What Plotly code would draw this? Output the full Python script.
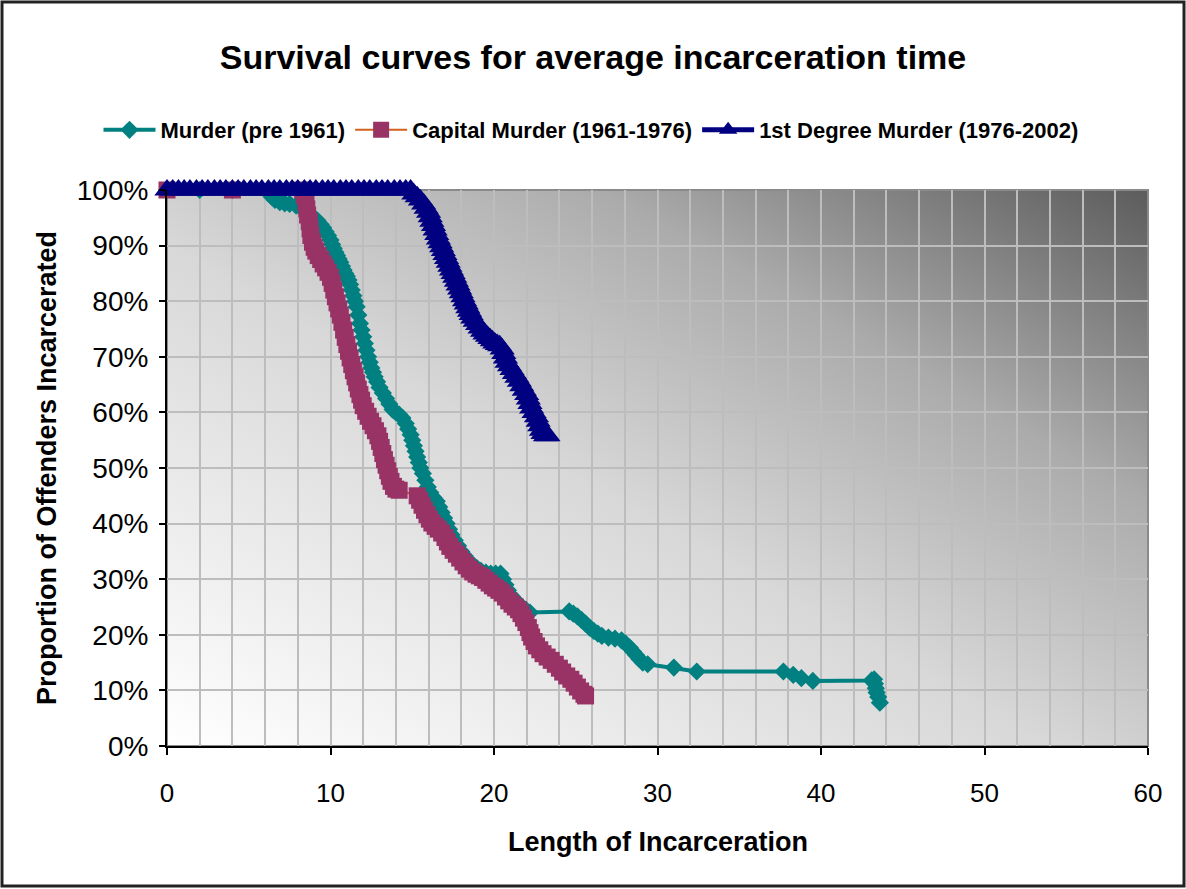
import base64
import plotly.graph_objects as go

# ---------------- data ----------------
murder_pts = [(0, 1.0), (2, 1.0), (4, 1.0), (6.2, 1.0), (6.4, 0.988), (6.6, 0.982), (6.9, 0.978),
              (7.2, 0.976), (7.5, 0.975), (7.9, 0.972), (8.2, 0.968), (8.5, 0.962), (8.8, 0.955),
              (9.0, 0.95), (9.2, 0.945), (9.4, 0.938), (9.55, 0.932), (9.7, 0.925), (9.85, 0.918),
              (10.0, 0.91), (10.1, 0.902), (10.2, 0.895), (10.3, 0.888), (10.4, 0.882), (10.5, 0.876),
              (10.6, 0.87), (10.7, 0.863), (10.8, 0.856), (10.9, 0.85), (11.0, 0.845), (11.1, 0.838),
              (11.2, 0.83), (11.3, 0.82), (11.4, 0.81), (11.5, 0.80), (11.6, 0.79), (11.7, 0.775),
              (11.8, 0.76), (11.9, 0.748), (12.0, 0.736), (12.1, 0.724), (12.2, 0.712), (12.3, 0.70),
              (12.4, 0.69), (12.5, 0.68), (12.6, 0.672), (12.7, 0.664), (12.85, 0.655), (13.0, 0.645),
              (13.2, 0.635), (13.4, 0.625), (13.6, 0.615), (13.8, 0.605), (14.0, 0.60), (14.2, 0.596),
              (14.4, 0.59), (14.6, 0.58), (14.75, 0.57), (14.9, 0.56), (15.0, 0.55), (15.1, 0.54),
              (15.2, 0.53), (15.3, 0.52), (15.4, 0.51), (15.5, 0.50), (15.65, 0.49), (15.8, 0.478),
              (15.95, 0.466), (16.1, 0.456), (16.3, 0.447), (16.5, 0.44), (16.65, 0.43), (16.8, 0.42),
              (16.95, 0.41), (17.1, 0.40), (17.25, 0.39), (17.4, 0.38), (17.6, 0.37), (17.8, 0.36),
              (18.0, 0.35), (18.2, 0.342), (18.45, 0.333), (18.7, 0.326), (18.95, 0.32), (19.2, 0.315),
              (19.5, 0.312), (19.8, 0.31), (20.1, 0.31), (20.4, 0.31), (20.55, 0.30), (20.7, 0.29),
              (20.85, 0.28), (21.0, 0.272), (21.2, 0.265), (21.45, 0.258), (21.7, 0.25), (21.95, 0.245),
              (22.2, 0.24), (24.6, 0.242), (24.85, 0.238), (25.1, 0.233), (25.35, 0.227), (25.6, 0.22),
              (25.85, 0.213), (26.1, 0.207), (26.35, 0.202), (26.6, 0.198), (27.0, 0.195), (27.4, 0.193),
              (27.8, 0.19), (28.05, 0.184), (28.3, 0.177), (28.5, 0.17), (28.7, 0.163), (28.9, 0.156),
              (29.1, 0.15), (29.4, 0.147), (31.0, 0.141), (32.4, 0.134), (37.7, 0.134), (38.3, 0.128),
              (38.8, 0.122), (39.5, 0.117), (43.1, 0.118), (43.25, 0.12), (43.3, 0.112), (43.35, 0.104),
              (43.4, 0.096), (43.5, 0.088), (43.6, 0.078)]

capital_pts = [(0, 1.0), (4, 1.0), (8.3, 1.0), (8.4, 0.99), (8.5, 0.978), (8.55, 0.966), (8.6, 0.955),
               (8.7, 0.943), (8.75, 0.93), (8.8, 0.918), (8.9, 0.906), (9.0, 0.897), (9.1, 0.89),
               (9.25, 0.882), (9.4, 0.875), (9.55, 0.867), (9.7, 0.86), (9.85, 0.852), (10.0, 0.843),
               (10.1, 0.832), (10.2, 0.82), (10.3, 0.808), (10.4, 0.797), (10.5, 0.786), (10.6, 0.775),
               (10.7, 0.762), (10.8, 0.748), (10.9, 0.735), (11.0, 0.722), (11.1, 0.71), (11.2, 0.698),
               (11.3, 0.686), (11.4, 0.675), (11.5, 0.664), (11.6, 0.653), (11.7, 0.642), (11.8, 0.632),
               (11.9, 0.622), (12.0, 0.612), (12.15, 0.602), (12.3, 0.593), (12.45, 0.584), (12.6, 0.576),
               (12.75, 0.567), (12.9, 0.558), (13.0, 0.548), (13.1, 0.537), (13.2, 0.526), (13.3, 0.515),
               (13.4, 0.505), (13.5, 0.495), (13.6, 0.485), (13.7, 0.476), (13.85, 0.467), (14.0, 0.462),
               (14.2, 0.46), (15.3, 0.45), (15.45, 0.442), (15.6, 0.433), (15.75, 0.424), (15.9, 0.416),
               (16.05, 0.408), (16.2, 0.401), (16.4, 0.395), (16.6, 0.39), (16.8, 0.383), (17.0, 0.375),
               (17.15, 0.367), (17.3, 0.359), (17.5, 0.352), (17.7, 0.345), (17.9, 0.338), (18.1, 0.331),
               (18.3, 0.324), (18.5, 0.318), (18.7, 0.313), (18.9, 0.309), (19.1, 0.306), (19.3, 0.303),
               (19.5, 0.298), (19.7, 0.293), (19.9, 0.288), (20.1, 0.284), (20.3, 0.28), (20.5, 0.275),
               (20.7, 0.268), (20.9, 0.261), (21.1, 0.255), (21.3, 0.25), (21.5, 0.245), (21.65, 0.238),
               (21.8, 0.23), (21.95, 0.222), (22.1, 0.213), (22.2, 0.204), (22.3, 0.196), (22.45, 0.188),
               (22.6, 0.18), (22.8, 0.173), (23.0, 0.166), (23.25, 0.16), (23.5, 0.154), (23.75, 0.147),
               (24.0, 0.14), (24.2, 0.133), (24.45, 0.126), (24.7, 0.12), (24.9, 0.113), (25.1, 0.106),
               (25.3, 0.099), (25.5, 0.093), (25.6, 0.09)]

first_pts = [(0, 1.0), (0.35, 1.0), (0.7, 1.0), (1.05, 1.0), (1.4, 1.0), (1.8, 1.0), (2.15, 1.0),
             (2.5, 1.0), (2.9, 1.0), (3.25, 1.0), (3.6, 1.0), (4.0, 1.0), (4.35, 1.0), (4.7, 1.0),
             (5.1, 1.0), (5.45, 1.0), (5.8, 1.0), (6.2, 1.0), (6.55, 1.0), (6.9, 1.0), (7.3, 1.0),
             (7.65, 1.0), (8.0, 1.0), (8.4, 1.0), (8.75, 1.0), (9.1, 1.0), (9.5, 1.0), (9.85, 1.0),
             (10.2, 1.0), (10.6, 1.0), (10.95, 1.0), (11.3, 1.0), (11.7, 1.0), (12.05, 1.0), (12.4, 1.0),
             (12.8, 1.0), (13.15, 1.0), (13.5, 1.0), (13.9, 1.0), (14.25, 1.0), (14.6, 1.0), (14.9, 1.0),
             (15.1, 0.993), (15.3, 0.988), (15.5, 0.982), (15.7, 0.975), (15.85, 0.967), (16.0, 0.96),
             (16.1, 0.952), (16.2, 0.944), (16.3, 0.936), (16.4, 0.928), (16.5, 0.92), (16.6, 0.912),
             (16.7, 0.905), (16.8, 0.898), (16.9, 0.891), (17.0, 0.884), (17.1, 0.877), (17.2, 0.87),
             (17.3, 0.863), (17.4, 0.856), (17.5, 0.85), (17.6, 0.843), (17.7, 0.836), (17.8, 0.829),
             (17.9, 0.822), (18.0, 0.815), (18.1, 0.808), (18.2, 0.801), (18.3, 0.795), (18.4, 0.788),
             (18.5, 0.782), (18.6, 0.776), (18.7, 0.77), (18.85, 0.764), (19.0, 0.758), (19.15, 0.752),
             (19.3, 0.746), (19.45, 0.741), (19.6, 0.737), (19.75, 0.733), (19.9, 0.729), (20.05, 0.725),
             (20.2, 0.722), (20.35, 0.72), (20.5, 0.714), (20.6, 0.706), (20.7, 0.698), (20.8, 0.69),
             (20.95, 0.684), (21.1, 0.677), (21.25, 0.67), (21.4, 0.663), (21.55, 0.656), (21.7, 0.648),
             (21.85, 0.64), (22.0, 0.632), (22.1, 0.624), (22.2, 0.616), (22.3, 0.608), (22.45, 0.60),
             (22.6, 0.592), (22.7, 0.584), (22.8, 0.576), (22.9, 0.568), (23.0, 0.562), (23.15, 0.558),
             (23.3, 0.558)]

murder_x = [p[0] for p in murder_pts]
murder_y = [p[1] for p in murder_pts]
capital_x = [p[0] for p in capital_pts]
capital_y = [p[1] for p in capital_pts]
first_x = [p[0] for p in first_pts]
first_y = [p[1] for p in first_pts]

series_names = ["Murder (pre 1961)", "Capital Murder (1961-1976)", "1st Degree Murder (1976-2002)"]
x_ticks = [0, 10, 20, 30, 40, 50, 60]
y_ticks = [0, 0.1, 0.2, 0.3, 0.4, 0.5, 0.6, 0.7, 0.8, 0.9, 1.0]

# ---------------- figure ----------------
FONT = "Arial, Liberation Sans, sans-serif"
fig = go.Figure()

fig.add_trace(go.Scatter(
    x=murder_x, y=murder_y, name=series_names[0], mode="lines+markers",
    line=dict(color="#008080", width=4),
    marker=dict(symbol="diamond", size=14, color="#008080"),
    cliponaxis=False))
fig.add_trace(go.Scatter(
    x=capital_x, y=capital_y, name=series_names[1], mode="lines+markers",
    line=dict(color="#d2601e", width=2),
    marker=dict(symbol="square", size=17, color="#993366"),
    cliponaxis=False))
fig.add_trace(go.Scatter(
    x=first_x, y=first_y, name=series_names[2], mode="lines+markers",
    line=dict(color="#000080", width=5),
    marker=dict(symbol="triangle-up", size=22, color="#000080"),
    cliponaxis=False))

svg = ('<svg xmlns="http://www.w3.org/2000/svg" width="100" height="100" viewBox="0 0 100 100" '
       'preserveAspectRatio="none"><defs><linearGradient id="g" x1="0" y1="1" x2="1" y2="0">'
       '<stop offset="0" stop-color="#ffffff"/><stop offset="0.45" stop-color="#d8d8d8"/>'
       '<stop offset="0.72" stop-color="#ababab"/><stop offset="1" stop-color="#5c5c5c"/>'
       '</linearGradient></defs><rect width="100" height="100" fill="url(#g)"/></svg>')
svg_uri = "data:image/svg+xml;base64," + base64.b64encode(svg.encode()).decode()

L, R, T, B = 167, 1148, 190, 746
W, H = 1186, 889
pw, ph = R - L, B - T

def px(xp):
    return (xp - L) / pw

def py(yp):
    return (B - yp) / ph

fig.update_layout(
    width=W, height=H,
    margin=dict(l=L, r=W - R, t=T, b=H - B, autoexpand=False),
    paper_bgcolor="white",
    plot_bgcolor="rgba(0,0,0,0)",
    font=dict(family=FONT, color="black"),
    title=dict(text="<b>Survival curves for average incarceration time</b>",
               x=0.5, xanchor="center", y=1 - 57 / H, yanchor="middle",
               font=dict(size=34, family=FONT, color="black")),
    legend=dict(orientation="h", x=px(591), xanchor="center",
                y=py(130), yanchor="middle",
                font=dict(size=22, family=FONT, color="black", weight="bold"),
                bgcolor="rgba(0,0,0,0)", tracegroupgap=0, itemwidth=52),
    images=[dict(source=svg_uri, xref="paper", yref="paper", x=0, y=1, sizex=1, sizey=1,
                 xanchor="left", yanchor="top", sizing="stretch", layer="below")],
    shapes=[
        dict(type="rect", xref="paper", yref="paper", x0=0, y0=0, x1=1, y1=1,
             line=dict(color="#8a8a8a", width=2), layer="below"),
        dict(type="rect", xref="paper", yref="paper",
             x0=px(2), x1=px(1184), y0=py(886), y1=py(2),
             line=dict(color="#222222", width=3), layer="above"),
    ],
    annotations=[
        dict(text="<b>Length of Incarceration</b>", xref="paper", yref="paper",
             x=0.5, y=py(842), xanchor="center", yanchor="middle", showarrow=False,
             font=dict(size=27, family=FONT, color="black")),
        dict(text="<b>Proportion of Offenders Incarcerated</b>", xref="paper", yref="paper",
             x=px(47), y=0.5, xanchor="center", yanchor="middle", showarrow=False,
             textangle=-90, font=dict(size=27, family=FONT, color="black")),
    ],
)

fig.update_xaxes(
    range=[0, 60], tickvals=x_ticks, ticks="outside", ticklen=7, tickwidth=2, tickcolor="black",
    showline=True, linecolor="black", linewidth=2, zeroline=False,
    showgrid=True, gridcolor="#bdbdbd", gridwidth=1.5,
    minor=dict(dtick=2, showgrid=True, gridcolor="#bdbdbd", gridwidth=1.5, ticks=""),
    tickfont=dict(size=26, family=FONT, color="black"), ticklabelstandoff=16,
    fixedrange=True, automargin=False)
fig.update_yaxes(
    range=[0, 1], tickvals=y_ticks, tickformat=".0%", ticks="outside", ticklen=6, tickwidth=2,
    tickcolor="black", showline=True, linecolor="black", linewidth=2, zeroline=False,
    showgrid=True, gridcolor="#bdbdbd", gridwidth=1.5,
    tickfont=dict(size=28, family=FONT, color="black"), ticklabelstandoff=5,
    fixedrange=True, automargin=False)

fig.write_html("out.html", config={"displayModeBar": False},
               post_script="document.body.style.margin='0px';")
